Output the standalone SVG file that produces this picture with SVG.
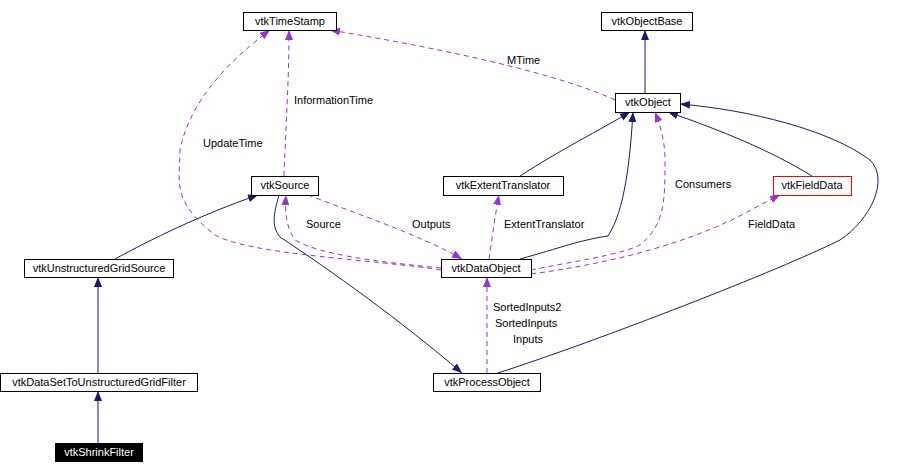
<svg xmlns="http://www.w3.org/2000/svg" width="918" height="474" viewBox="0 0 918 474">
<style>
.n rect{fill:#fff;stroke:#000;stroke-width:1}
text{font-family:"Liberation Sans",Arial,sans-serif;font-size:11px;fill:#000}
.n text{text-anchor:middle}
.s{fill:none;stroke:#191970;stroke-width:1}
.d{fill:none;stroke:#9a32cd;stroke-width:1;stroke-dasharray:5,4}
</style>
<defs>
<marker id="a" viewBox="0 0 10 10" refX="10" refY="5" markerWidth="10" markerHeight="10" markerUnits="userSpaceOnUse" orient="auto"><path d="M0,1L10,5L0,9z" fill="#191970"/></marker>
<marker id="p" viewBox="0 0 10 10" refX="10" refY="5" markerWidth="10" markerHeight="10" markerUnits="userSpaceOnUse" orient="auto"><path d="M0,1L10,5L0,9z" fill="#9a32cd"/></marker>
</defs>
<rect width="918" height="474" fill="#fff"/>
<g id="edges">
<path class="s" d="M645,93V30" marker-end="url(#a)"/>
<path class="s" d="M520,176C560,150 600,130 630,112" marker-end="url(#a)"/>
<path class="s" d="M520,259C560,248 580,240 608,236C625,210 630,160 633,112" marker-end="url(#a)"/>
<path class="s" d="M812,176C770,150 720,130 668,112" marker-end="url(#a)"/>
<path class="s" d="M498,373C600,340 780,270 840,240C870,220 890,180 870,160C830,130 750,110 680,104" marker-end="url(#a)"/>
<path class="s" d="M115,259C150,240 200,215 258,195" marker-end="url(#a)"/>
<path class="s" d="M98,373V277" marker-end="url(#a)"/>
<path class="s" d="M98,443V391" marker-end="url(#a)"/>
<path class="s" d="M279,195C275,210 270,225 280,237C330,270 400,320 462,373" marker-end="url(#a)"/>
<path class="d" d="M615,100C550,70 420,45 330,30" marker-end="url(#p)"/>
<path class="d" d="M284,176C286,120 289,80 289,30" marker-end="url(#p)"/>
<path class="d" d="M441,270C380,260 250,255 215,235C170,200 180,180 180,150C190,100 230,60 270,30" marker-end="url(#p)"/>
<path class="d" d="M441,268C380,262 320,255 295,240C285,225 285,210 286,195" marker-end="url(#p)"/>
<path class="d" d="M308,195C360,215 420,235 462,259" marker-end="url(#p)"/>
<path class="d" d="M489,259C492,240 495,215 499,195" marker-end="url(#p)"/>
<path class="d" d="M531,270C570,262 620,255 640,245C665,225 665,200 665,160C665,140 660,125 655,112" marker-end="url(#p)"/>
<path class="d" d="M531,274C620,262 700,240 760,205L780,195" marker-end="url(#p)"/>
<path class="d" d="M487,373V277" marker-end="url(#p)"/>
</g>
<text x="507" y="64">MTime</text>
<text x="294" y="104">InformationTime</text>
<text x="203" y="147">UpdateTime</text>
<text x="306" y="228">Source</text>
<text x="412" y="228">Outputs</text>
<text x="504" y="228">ExtentTranslator</text>
<text x="675" y="188">Consumers</text>
<text x="748" y="228">FieldData</text>
<text x="493" y="311">SortedInputs2</text>
<text x="495" y="327">SortedInputs</text>
<text x="513" y="343">Inputs</text>
<g id="vtkTimeStamp" class="n"><rect x="243.5" y="12.5" width="93" height="18"/><text x="290" y="25">vtkTimeStamp</text></g>
<g id="vtkObjectBase" class="n"><rect x="601.5" y="12.5" width="91" height="18"/><text x="647" y="25">vtkObjectBase</text></g>
<g id="vtkObject" class="n"><rect x="615.5" y="93.5" width="65" height="19"/><text x="648" y="106">vtkObject</text></g>
<g id="vtkSource" class="n"><rect x="251.5" y="176.5" width="67" height="19"/><text x="285" y="189">vtkSource</text></g>
<g id="vtkExtentTranslator" class="n"><rect x="443.5" y="176.5" width="120" height="19"/><text x="503" y="189">vtkExtentTranslator</text></g>
<g id="vtkFieldData" class="n"><rect x="773.5" y="176.5" width="78" height="19" style="stroke:#f00"/><text x="812" y="189">vtkFieldData</text></g>
<g id="vtkUnstructuredGridSource" class="n"><rect x="24.5" y="259.5" width="149" height="18"/><text x="99" y="272">vtkUnstructuredGridSource</text></g>
<g id="vtkDataObject" class="n"><rect x="441.5" y="259.5" width="90" height="18"/><text x="486" y="272">vtkDataObject</text></g>
<g id="vtkDataSetToUnstructuredGridFilter" class="n"><rect x="0.5" y="373.5" width="197" height="18"/><text x="99" y="386">vtkDataSetToUnstructuredGridFilter</text></g>
<g id="vtkProcessObject" class="n"><rect x="433.5" y="373.5" width="107" height="18"/><text x="487" y="386">vtkProcessObject</text></g>
<g id="vtkShrinkFilter" class="n"><rect x="55.5" y="443.5" width="87" height="18" style="fill:#000"/><text x="99" y="456" style="fill:#fff">vtkShrinkFilter</text></g>
</svg>
